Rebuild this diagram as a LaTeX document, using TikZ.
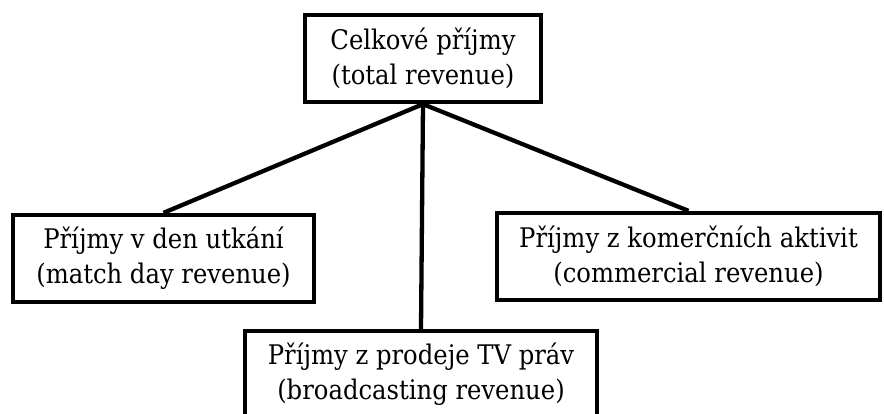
\documentclass[tikz,border=0pt]{standalone}
\usepackage{fontspec}
\setmainfont{DejaVu Serif Condensed}
\begin{document}
\begin{tikzpicture}[x=1pt,y=1pt,
  box/.style={draw=black,line width=4.3pt,fill=white,inner sep=0pt,align=center,
    minimum height=87pt,font=\fontsize{27}{35}\selectfont},
  link/.style={line width=4.3pt,draw=black}]
\useasboundingbox (0,0) rectangle (884,414);
\node[box,minimum width=236pt] (top) at (423,{414-58.5}) {Celkové příjmy\\(total revenue)};
\node[box,minimum width=301pt] (left) at (163.5,{414-258.5}) {Příjmy v den utkání\\(match day revenue)};
\node[box,minimum width=383pt] (right) at (688.5,{414-256.5}) {Příjmy z komerčních aktivit\\(commercial revenue)};
\node[box,minimum width=352pt] (bottom) at (421,{414-374.5}) {Příjmy z prodeje TV práv\\(broadcasting revenue)};
\draw[link] (top.south) -- (left.north);
\draw[link] (top.south) -- (right.north);
\draw[link] (top.south) -- (bottom.north);
\end{tikzpicture}
\end{document}
